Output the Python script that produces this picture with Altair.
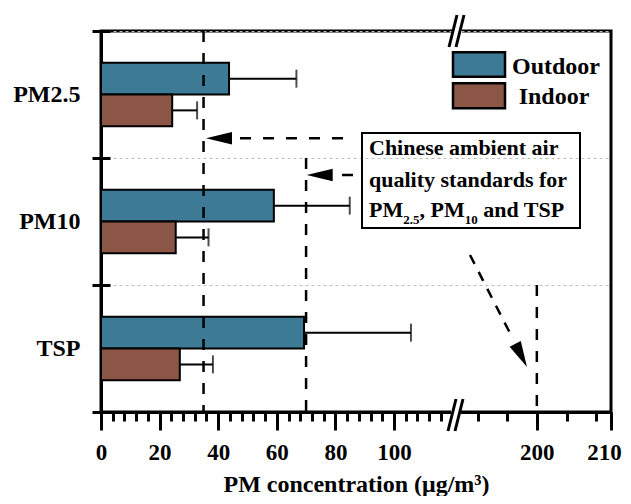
import altair as alt
import pandas as pd

# ---------------- data ----------------
sites = ["PM2.5", "PM10", "TSP"]
envs = ["Outdoor", "Indoor"]
outdoor_mean = [43.7, 59.0, 69.3]
outdoor_err = [23.0, 25.9, 36.5]
indoor_mean = [24.3, 25.5, 26.9]
indoor_err = [8.5, 11.2, 11.3]
standard_values = [35, 70, 200]
major_ticks = [0, 20, 40, 60, 80, 100, 200, 210]
minor_ticks = [4, 8, 12, 16, 24, 28, 32, 36, 44, 48, 52, 56, 64, 68, 72, 76,
               84, 88, 92, 96, 104, 108, 112, 116, 192, 196, 204, 208]
colors = ["#3d7a96", "#8b5646"]

rows = []
for i, s in enumerate(sites):
    rows.append(dict(site=s, env="Outdoor", mean=outdoor_mean[i],
                     upper=outdoor_mean[i] + outdoor_err[i]))
    rows.append(dict(site=s, env="Indoor", mean=indoor_mean[i],
                     upper=indoor_mean[i] + indoor_err[i]))
bars_df = pd.DataFrame(rows)
std_df = pd.DataFrame(dict(site=sites, std=standard_values))

# ---------------- layout ----------------
W, H = 510, 381
FONT = "Liberation Serif"

x_scale = alt.Scale(domain=[0, 121, 189.3, 210], range=[0, 354.5, 356.5, W],
                    nice=False, zero=False)
y_scale = alt.Scale(domain=sites, paddingInner=0, paddingOuter=0)
off_scale = alt.Scale(domain=envs, paddingInner=0, paddingOuter=1)
color_scale = alt.Scale(domain=envs, range=colors)

bars = alt.Chart(bars_df).mark_bar(stroke="black", strokeWidth=2).encode(
    x=alt.X("mean:Q", scale=x_scale,
            axis=alt.Axis(orient="bottom", values=major_ticks, tickSize=18,
                          tickWidth=3, domainWidth=3, labelFont=FONT,
                          labelFontWeight="bold", labelFontSize=23,
                          labelPadding=11, labelFlush=False, labelOverlap=False,
                          labelOffset={"expr": "datum.value == 210 ? -7 : 0"},
                          title="PM concentration (μg/m³)", titleFont=FONT,
                          titleFontWeight="bold", titleFontSize=24,
                          titleY=79, titleBaseline="alphabetic", grid=False)),
    x2=alt.datum(0),
    y=alt.Y("site:N", scale=y_scale,
            axis=alt.Axis(orient="left", title=None, tickBand="extent",
                          tickSize=9, tickWidth=3, domainWidth=3,
                          labelFont=FONT, labelFontWeight="bold",
                          labelFontSize=24, labelPadding=12, grid=False)),
    yOffset=alt.YOffset("env:N", scale=off_scale),
    color=alt.Color("env:N", scale=color_scale, legend=None),
)

err = alt.Chart(bars_df).mark_rule(color="black", strokeWidth=2).encode(
    x=alt.X("mean:Q", scale=x_scale, axis=None),
    x2="upper:Q",
    y=alt.Y("site:N", scale=y_scale, axis=None),
    yOffset=alt.YOffset("env:N", scale=off_scale),
)

caps = alt.Chart(bars_df).mark_tick(color="black", thickness=2, size=18).encode(
    x=alt.X("upper:Q", scale=x_scale, axis=None),
    y=alt.Y("site:N", scale=y_scale, axis=None),
    yOffset=alt.YOffset("env:N", scale=off_scale),
)

stds = alt.Chart(std_df).mark_rule(color="black", strokeWidth=2.5,
                                   strokeDash=[11, 11]).encode(
    x=alt.X("std:Q", scale=x_scale,
            axis=alt.Axis(orient="bottom", values=minor_ticks, tickSize=9,
                          tickWidth=3, labels=False, domain=False, title=None,
                          grid=False)),
    y=alt.Y("site:N", scale=y_scale, bandPosition=0,
            axis=alt.Axis(orient="left", offset=-9, tickBand="extent",
                          tickSize=9, tickWidth=3, labels=False, domain=False,
                          title=None, grid=True, gridColor="#bdbdbd",
                          gridDash=[3, 3], gridWidth=1)),
    y2=alt.value("height"),
)

data_layer = alt.layer(bars, err, caps, stds).resolve_axis(x="independent",
                                                           y="independent")

# ---------------- annotations (plot-area units) ----------------
ax = alt.Scale(domain=[0, W], nice=False, zero=False)
ay = alt.Scale(domain=[0, H], reverse=True, nice=False, zero=False)


def X(f):
    return alt.X(f, type="quantitative", scale=ax, axis=None)


def Y(f):
    return alt.Y(f, type="quantitative", scale=ay, axis=None)


leg_df = pd.DataFrame(dict(env=envs, x0=[352, 352], x1=[404, 404],
                           y0=[21.3, 52.3], y1=[45.7, 77.3],
                           tx=[455, 453], ty=[35.7, 65.7]))
leg_rect = alt.Chart(leg_df).mark_rect(stroke="black", strokeWidth=2.5).encode(
    x=X("x0"), x2="x1", y=Y("y0"), y2="y1",
    color=alt.Color("env:N", scale=color_scale, legend=None))
leg_text = alt.Chart(leg_df).mark_text(font=FONT, fontSize=24, fontWeight="bold",
                                       align="center", baseline="middle",
                                       color="black").encode(
    x=X("tx"), y=Y("ty"), text="env:N")

box_df = pd.DataFrame(dict(x0=[261], x1=[479], y0=[102], y1=[197]))
box = alt.Chart(box_df).mark_rect(fillOpacity=0, stroke="black",
                                  strokeWidth=2).encode(
    x=X("x0"), x2="x1", y=Y("y0"), y2="y1")

main_txt_df = pd.DataFrame(dict(
    t=["Chinese ambient air", "quality standards for", "PM", ",", "PM", "and TSP"],
    x=[268, 268, 268, 318.5, 329.5, 382.2],
    y=[124, 155.5, 185.5, 185.5, 185.5, 185.5]))
main_txt = alt.Chart(main_txt_df).mark_text(font=FONT, fontSize=22,
                                            fontWeight="bold", align="left",
                                            baseline="alphabetic",
                                            color="black").encode(
    x=X("x"), y=Y("y"), text="t:N")
sub_df = pd.DataFrame(dict(t=["2.5", "10"], x=[302.2, 363.7], y=[193, 193]))
sub_txt = alt.Chart(sub_df).mark_text(font=FONT, fontSize=13, fontWeight="bold",
                                      align="left", baseline="alphabetic",
                                      color="black").encode(
    x=X("x"), y=Y("y"), text="t:N")

shaft_df = pd.DataFrame(dict(x0=[242, 252], x1=[139, 241],
                             y0=[107.3, 144], y1=[107.3, 144]))
shafts = alt.Chart(shaft_df).mark_rule(color="black", strokeWidth=2.5,
                                       strokeDash=[11, 12]).encode(
    x=X("x0"), x2="x1", y=Y("y0"), y2="y1")
diag_df = pd.DataFrame(dict(x0=[369], x1=[412], y0=[224], y1=[308]))
diag = alt.Chart(diag_df).mark_rule(color="black", strokeWidth=2.5,
                                    strokeDash=[10, 9]).encode(
    x=X("x0"), x2="x1", y=Y("y0"), y2="y1")
head_df = pd.DataFrame(dict(x=[118, 218.7, 420.1], y=[107.3, 144, 324.4],
                            ang=[0, 0, 243]))
heads = alt.Chart(head_df).mark_point(shape="M-1,0L1,-0.48L1,0.48Z", filled=True,
                                      color="black", opacity=1,
                                      size=676).encode(
    x=X("x"), y=Y("y"), angle=alt.Angle("ang:Q", scale=None))

mask_df = pd.DataFrame(dict(x0=[350, 351], x1=[360, 361], y0=[381, 0], y1=[381, 0]))
masks = alt.Chart(mask_df).mark_rule(color="white", strokeWidth=5).encode(
    x=X("x0"), x2="x1", y=Y("y0"), y2="y1")
slash_df = pd.DataFrame(dict(x0=[347, 354, 348, 355], x1=[355, 362, 356, 363],
                             y0=[400, 400, 16, 16], y1=[368, 368, -16, -16]))
slashes = alt.Chart(slash_df).mark_rule(color="black", strokeWidth=3).encode(
    x=X("x0"), x2="x1", y=Y("y0"), y2="y1")

annot_layer = alt.layer(leg_rect, leg_text, box, main_txt, sub_txt, shafts, diag,
                        heads, masks, slashes)

chart = (
    alt.layer(data_layer, annot_layer)
    .resolve_scale(x="independent", y="independent")
    .properties(width=W, height=H,
                padding={"left": 93, "top": 23, "right": 12, "bottom": 84},
                autosize=alt.AutoSizeParams(type="none"))
    .configure(font=FONT)
    .configure_view(stroke="black", strokeWidth=3)
    .configure_axis(labelFont=FONT, titleFont=FONT, labelFontWeight="bold",
                    titleFontWeight="bold", labelColor="black",
                    titleColor="black", tickColor="black", domainColor="black")
)

chart.save("out.html", embed_options={"renderer": "svg", "actions": False})
